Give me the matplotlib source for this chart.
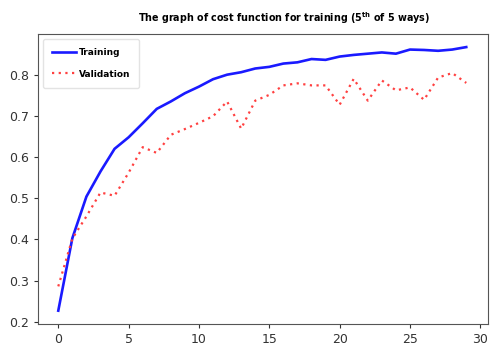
import matplotlib
matplotlib.use("Agg")
import matplotlib.pyplot as plt

epochs = list(range(30))
training = [0.227, 0.403, 0.504, 0.565, 0.620, 0.648, 0.682, 0.717, 0.735, 0.755,
            0.771, 0.789, 0.800, 0.806, 0.815, 0.819, 0.827, 0.830, 0.838, 0.836,
            0.844, 0.848, 0.851, 0.854, 0.851, 0.861, 0.860, 0.858, 0.861, 0.867]
validation = [0.286, 0.402, 0.456, 0.514, 0.506, 0.562, 0.624, 0.610, 0.654, 0.668,
              0.683, 0.699, 0.735, 0.669, 0.737, 0.751, 0.774, 0.779, 0.774, 0.774,
              0.727, 0.790, 0.737, 0.786, 0.762, 0.769, 0.739, 0.793, 0.804, 0.780]
title = r"The graph of cost function for training (5$^{\mathbf{th}}$ of 5 ways)"

fig = plt.figure(figsize=(4.92, 3.46), dpi=100)
ax = fig.add_axes([0.077, 0.064, 0.915, 0.838])
ax.plot(epochs, training, color="#1a1aff", lw=1.9, label="Training")
ax.plot(epochs, validation, color="#ff4040", lw=1.6, ls=(0, (1, 2)), label="Validation")
ax.set_xlim(-1.45, 30.55)
ax.set_xticks([0, 5, 10, 15, 20, 25, 30])
ax.set_yticks([0.2, 0.3, 0.4, 0.5, 0.6, 0.7, 0.8])
ax.tick_params(labelsize=9, colors="#333333", length=3)
for s in ax.spines.values():
    s.set_color("#555555")
leg = ax.legend(loc="upper left", prop={"weight": "bold", "size": 6.5},
                frameon=True, borderpad=1.0, labelspacing=1.35, handlelength=2.6,
                handletextpad=0.3, borderaxespad=0.6)
leg.get_frame().set_edgecolor("#dddddd")
fig.text(0.578, 0.948, title, ha="center", va="center", fontsize=6.9, fontweight="bold")
fig.savefig("out.png", dpi=100)
